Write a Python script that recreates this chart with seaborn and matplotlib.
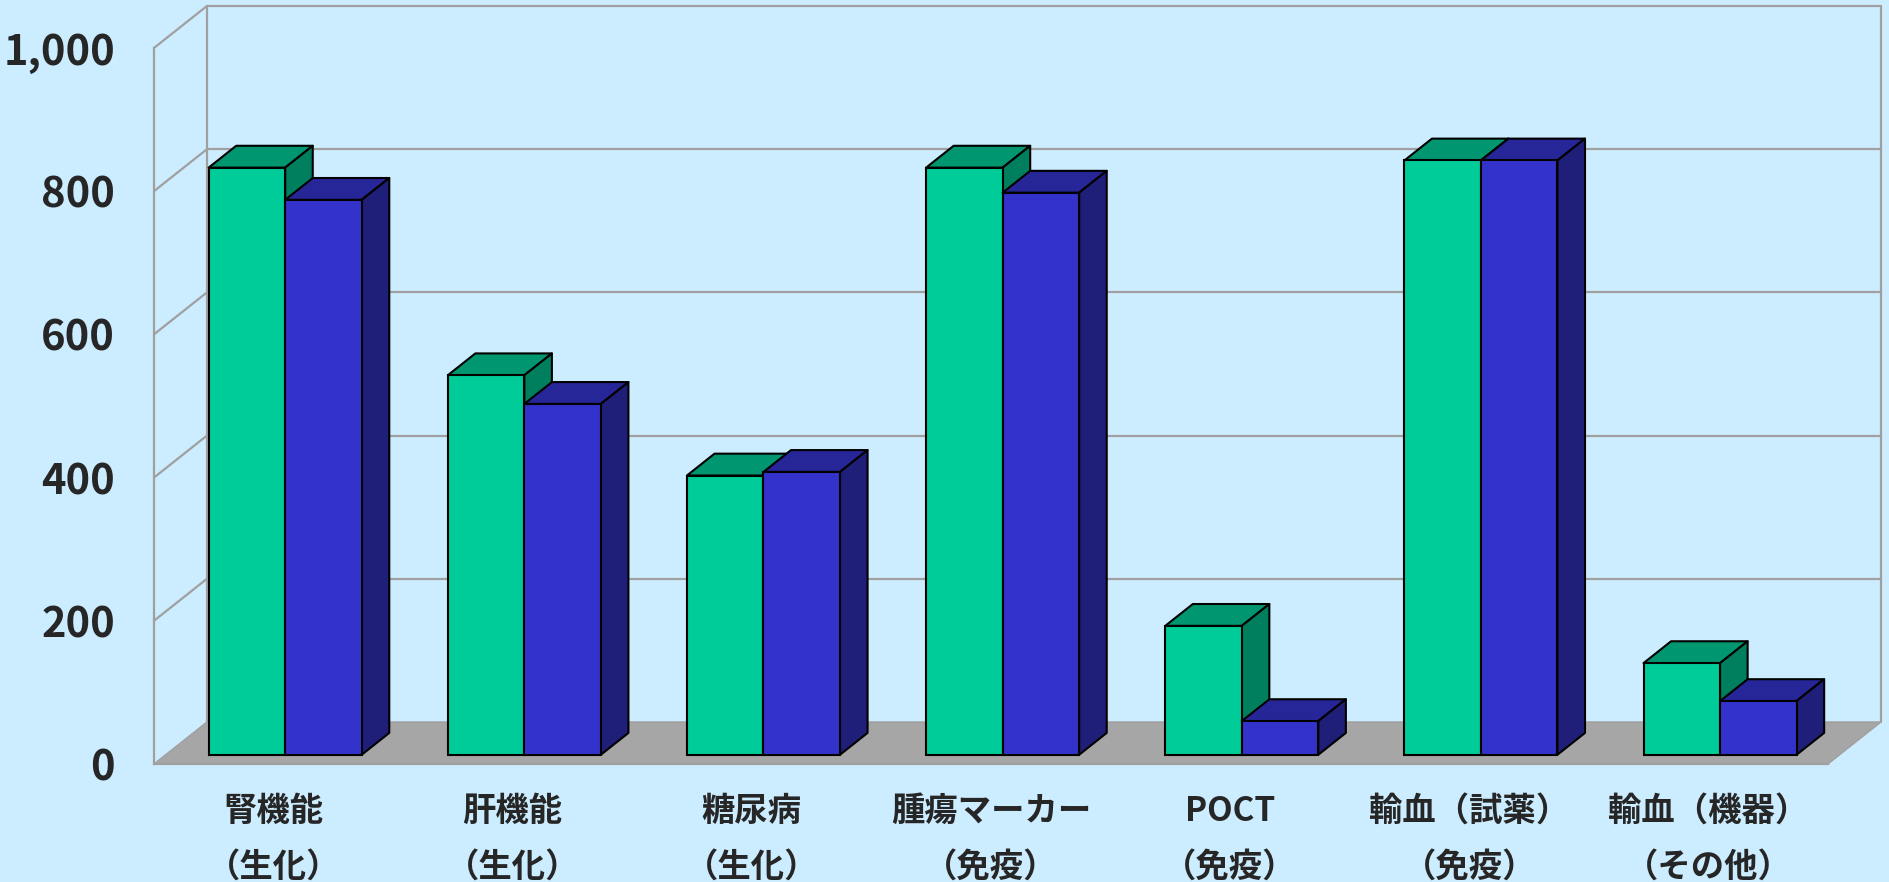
import numpy as np
import pandas as pd
import matplotlib
matplotlib.use("Agg")
import matplotlib.pyplot as plt
from matplotlib.patches import Polygon
from matplotlib.ticker import StrMethodFormatter
import seaborn as sns

# data
cat_main = ["腎機能", "肝機能", "糖尿病", "腫瘍マーカー", "POCT", "輸血（試薬）", "輸血（機器）"]
cat_sub = ["（生化）", "（生化）", "（生化）", "（免疫）", "（免疫）", "（免疫）", "（その他）"]
series_names = ["系列1", "系列2"]
vals_green = [820, 530, 390, 820, 180, 830, 128]
vals_blue = [775, 490, 395, 785, 47, 830, 75]
y_ticks = [0, 200, 400, 600, 800, 1000]

BG = "#CCECFF"
GRID = "#A0A0A0"
FLOOR = "#A6A6A6"
front_cols = ["#00CC99", "#3333CC"]
top_cols = ["#00966F", "#262699"]
side_cols = ["#007F5F", "#1F1F7A"]

sns.set_style("white")
plt.rcParams["font.family"] = ["Noto Sans CJK JP", "DejaVu Sans"]

cats = [m + "\n" + s for m, s in zip(cat_main, cat_sub)]
df = pd.DataFrame({
    "cat": cats * 2,
    "series": [series_names[0]] * len(cats) + [series_names[1]] * len(cats),
    "val": vals_green + vals_blue,
})

fig = plt.figure(figsize=(18.89, 8.82), dpi=100, facecolor=BG)
ax = fig.add_axes([0.0815, 0.1338, 0.8862, 0.8118])
ax.set_facecolor("none")

sns.barplot(data=df, x="cat", y="val", hue="series", palette=front_cols,
            width=0.64, saturation=1, edgecolor="black", linewidth=1.5,
            errorbar=None, legend=False, ax=ax)

ax.set_xlim(-0.5, len(cats) - 0.5)
ax.set_ylim(0, 1000)
fig.canvas.draw()

# depth of the fake 3d box, in pixels -> data units
p0 = ax.transData.transform((0, 0))
inv = ax.transData.inverted()
dx, dy = inv.transform(p0 + np.array([53, 42])) - inv.transform(p0)
x_lo, x_hi = -0.5, len(cats) - 0.5

# floor
floor = Polygon([(x_lo, 0), (x_hi, 0), (x_hi + dx, dy), (x_lo + dx, dy)],
                closed=True, facecolor=FLOOR, edgecolor=GRID, lw=1, zorder=1, clip_on=False)
ax.add_patch(floor)

# walls / gridlines
for v in y_ticks[1:]:
    ax.plot([x_lo + dx, x_hi + dx], [v + dy, v + dy], color=GRID, lw=1.6, zorder=0.5, clip_on=False)
    ax.plot([x_lo, x_lo + dx], [v, v + dy], color=GRID, lw=1.6, zorder=0.5, clip_on=False)
for xe in [x_lo + dx, x_hi + dx]:
    ax.plot([xe, xe], [dy, 1000 + dy], color=GRID, lw=1.6, zorder=0.5, clip_on=False)

# bars: shift seaborn's fronts into the box and add tops / sides
a, b = 0.22, 0.74
for s, cont in enumerate(ax.containers):
    for i, rect in enumerate(cont):
        x0, w, h = rect.get_x(), rect.get_width(), rect.get_height()
        z = 3 + i * 6 + s * 3
        rect.set_xy((x0 + a * dx, a * dy))
        rect.set_zorder(z + 2)
        rect.set_clip_on(False)
        top = [(x0 + a * dx, h + a * dy), (x0 + w + a * dx, h + a * dy),
               (x0 + w + b * dx, h + b * dy), (x0 + b * dx, h + b * dy)]
        side = [(x0 + w + a * dx, a * dy), (x0 + w + b * dx, b * dy),
                (x0 + w + b * dx, h + b * dy), (x0 + w + a * dx, h + a * dy)]
        ax.add_patch(Polygon(top, closed=True, facecolor=top_cols[s], edgecolor="black",
                             lw=1.5, zorder=z, clip_on=False, joinstyle="round"))
        ax.add_patch(Polygon(side, closed=True, facecolor=side_cols[s], edgecolor="black",
                             lw=1.5, zorder=z + 1, clip_on=False, joinstyle="round"))

# axes styling
for sp in ["top", "right"]:
    ax.spines[sp].set_visible(False)
for sp in ["left", "bottom"]:
    ax.spines[sp].set_color(GRID)
    ax.spines[sp].set_linewidth(1.6)
    ax.spines[sp].set_zorder(1.5)

ax.set_yticks(y_ticks)
ax.yaxis.set_major_formatter(StrMethodFormatter("{x:,.0f}"))
ax.tick_params(axis="y", direction="out", length=10, width=1.5, color=GRID,
               pad=18, labelsize=30)
for t in ax.get_yticklabels():
    t.set_fontweight("bold")

ax.set_xticks(range(len(cats)))
ax.set_xticklabels(cats, fontsize=24, fontweight="bold", linespacing=1.9)
ax.set_xticks(np.arange(x_lo, x_hi + 0.01, 1), minor=True)
ax.tick_params(axis="x", which="major", length=0, pad=22)
ax.tick_params(axis="x", which="minor", direction="out", length=7, width=1.5, color=GRID)
ax.set_xlabel("")
ax.set_ylabel("")

fig.savefig("out.png", dpi=100, facecolor=BG)
